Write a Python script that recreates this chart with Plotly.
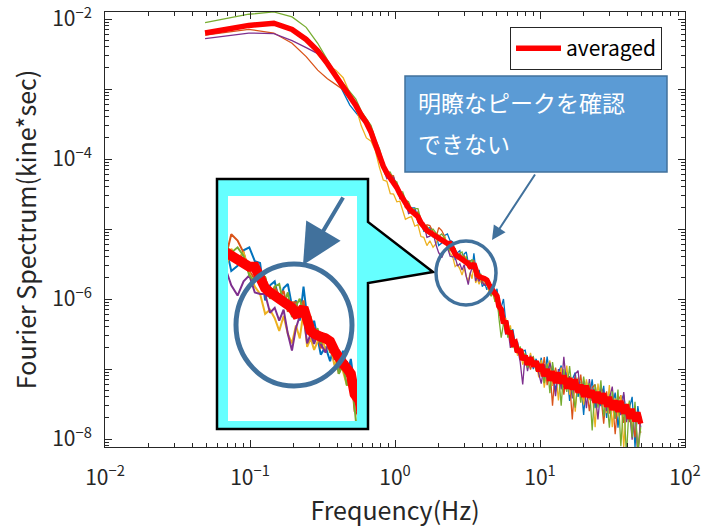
import plotly.graph_objects as go

# ---------------- data ----------------
freq_hz = [0.049, 0.098, 0.146, 0.195, 0.244, 0.293, 0.342, 0.391, 0.439, 0.488,
           0.537, 0.586, 0.635, 0.684, 0.732, 0.781, 0.830, 0.879, 0.928, 0.977,
           1.03, 1.08, 1.13, 1.18, 1.24, 1.30, 1.37, 1.44, 1.51, 1.58, 1.66, 1.74, 1.83, 1.92,
           2.0, 2.1, 2.2, 2.3, 2.4, 2.5, 2.6, 2.7, 2.8, 2.9, 3.0, 3.1, 3.2, 3.3, 3.4, 3.5,
           3.6, 3.7, 3.8, 3.9, 4.0, 4.15, 4.3, 4.45, 4.6, 4.75, 4.9, 5.05, 5.2,
           5.4, 5.6, 5.8, 6.0, 6.25, 6.5, 6.75, 7.0, 7.3, 7.6, 7.9, 8.2, 8.6, 9.0, 9.4, 9.8,
           10.2, 10.7, 11.2, 11.7, 12.2, 12.8, 13.4, 14.0, 14.6, 15.3, 16.0, 16.7, 17.5, 18.3,
           19.1, 20.0, 20.9, 21.9, 22.9, 24.0, 25.1, 26.3, 27.5, 28.8, 30.1, 31.5, 33.0, 34.5,
           36.1, 37.8, 39.5, 41.3, 43.2, 45.2, 47.3, 49.5]

averaged = [6.3e-3, 8.1e-3, 8.7e-3, 7.1e-3, 5.1e-3, 3.5e-3, 2.3e-3, 1.55e-3, 1.1e-3, 7.8e-4,
            5.8e-4, 4.2e-4, 3.3e-4, 2.4e-4, 1.6e-4, 1.07e-4, 7.9e-5, 6.3e-5, 5.4e-5, 4.8e-5,
            3.9e-5, 3.2e-5, 2.7e-5, 2.3e-5, 2.0e-5, 1.8e-5, 1.66e-5, 1.5e-5, 1.23e-5, 1.07e-5,
            9.5e-6, 8.9e-6, 8.3e-6, 7.8e-6,
            7.2e-6, 6.8e-6, 6.5e-6, 6.2e-6, 6.2e-6, 5.0e-6, 4.4e-6, 4.1e-6, 3.9e-6, 3.7e-6,
            3.55e-6, 3.4e-6, 3.2e-6, 2.9e-6, 2.95e-6, 3.2e-6, 2.4e-6, 2.2e-6, 2.1e-6, 2.0e-6,
            2.0e-6, 1.95e-6, 1.86e-6, 1.6e-6, 1.4e-6, 1.3e-6, 1.2e-6, 1.1e-6, 7.9e-7,
            7.1e-7, 4.5e-7, 4.9e-7, 3.2e-7, 3.55e-7, 2.3e-7, 2.4e-7, 1.74e-7, 1.9e-7, 1.35e-7,
            1.55e-7, 1.15e-7, 1.45e-7, 1.1e-7, 1.29e-7, 9.3e-8,
            1.17e-7, 7.9e-8, 1.0e-7, 6.8e-8, 9.3e-8, 6.3e-8, 8.9e-8, 6.2e-8, 8.1e-8, 5.25e-8,
            7.4e-8, 5.1e-8, 7.1e-8, 4.6e-8, 6.0e-8, 4.0e-8, 5.8e-8, 3.9e-8, 5.0e-8, 3.3e-8,
            4.7e-8, 3.2e-8, 4.5e-8, 2.9e-8, 4.0e-8, 2.6e-8, 3.55e-8, 2.45e-8, 3.5e-8, 2.3e-8,
            3.1e-8, 1.95e-8, 2.7e-8, 1.78e-8, 2.4e-8, 1.66e-8]

record_1 = [6.5e-3, 8.3e-3, 8.7e-3, 7.1e-3, 5.5e-3, 3.6e-3, 2.3e-3, 1.45e-3, 9.1e-4, 5.9e-4,
            4.6e-4, 3.7e-4, 3.2e-4, 2.2e-4, 1.4e-4, 1.17e-4, 9.1e-5, 6.6e-5, 4.8e-5, 5.1e-5,
            4.4e-5, 2.9e-5, 3.1e-5, 2.4e-5, 1.78e-5, 2.0e-5, 2.0e-5, 1.45e-5, 1.32e-5, 9.3e-6,
            1.0e-5, 1.05e-5, 7.8e-6, 8.5e-6,
            5.8e-6, 6.3e-6, 8.1e-6, 8.5e-6, 6.8e-6, 6.6e-6, 3.6e-6, 4.6e-6, 4.9e-6, 3.55e-6,
            4.4e-6, 4.7e-6, 3.3e-6, 3.6e-6, 2.6e-6, 4.5e-6, 2.75e-6, 2.0e-6, 2.6e-6, 1.95e-6,
            1.5e-6, 1.7e-6, 1.35e-6, 1.78e-6, 1.15e-6, 1.6e-6, 1.1e-6, 1.4e-6, 8.9e-7,
            7.6e-7, 1.0e-6, 4.8e-7, 4.7e-7, 2.9e-7, 3.7e-7, 2.3e-7, 2.45e-7, 1.45e-7, 1.8e-7,
            1.86e-7, 1.23e-7, 1.48e-7, 1.0e-7, 1.4e-7, 1.0e-7,
            1.45e-7, 6.8e-8, 1.5e-7, 7.8e-8, 1.1e-7, 4.8e-8, 8.9e-8, 1.12e-7, 5.4e-8, 9.1e-8,
            3.5e-8, 7.1e-8, 8.9e-8, 4.0e-8, 6.6e-8, 2.2e-8, 6.6e-8, 3.9e-8, 7.1e-8, 2.75e-8,
            4.8e-8, 2.95e-8, 5.75e-8, 2.0e-8, 4.5e-8, 3.0e-8, 4.6e-8, 1.45e-8, 3.55e-8, 4.3e-8,
            1.86e-8, 2.8e-8, 4.0e-8, 7.6e-9, 2.95e-8, 1.48e-8]

record_2 = [5.9e-3, 7.1e-3, 6.3e-3, 4.5e-3, 2.9e-3, 1.86e-3, 1.4e-3, 1.17e-3, 9.8e-4, 7.8e-4,
            6.0e-4, 4.7e-4, 3.6e-4, 2.5e-4, 1.48e-4, 1.2e-4, 8.3e-5, 5.5e-5, 5.9e-5, 5.75e-5,
            3.6e-5, 3.6e-5, 2.8e-5, 2.0e-5, 2.24e-5, 1.86e-5, 1.5e-5, 1.78e-5, 1.32e-5, 9.5e-6,
            1.15e-5, 1.12e-5, 9.1e-6, 7.4e-6,
            1.05e-5, 9.5e-6, 7.8e-6, 5.8e-6, 5.1e-6, 5.6e-6, 5.25e-6, 3.8e-6, 4.5e-6, 3.9e-6,
            4.2e-6, 3.0e-6, 3.5e-6, 3.5e-6, 2.8e-6, 3.6e-6, 2.2e-6, 2.4e-6, 1.86e-6, 2.1e-6,
            1.66e-6, 2.1e-6, 1.66e-6, 1.8e-6, 1.1e-6, 1.4e-6, 1.05e-6, 1.15e-6, 6.0e-7,
            5.6e-7, 5.5e-7, 3.5e-7, 4.1e-7, 3.0e-7, 3.2e-7, 1.74e-7, 2.1e-7, 1.45e-7, 1.9e-7,
            1.29e-7, 1.38e-7, 9.8e-8, 1.38e-7, 1.07e-7, 1.26e-7,
            7.8e-8, 1.48e-7, 5.9e-8, 1.02e-7, 3.0e-8, 1.05e-7, 6.2e-8, 1.05e-7, 4.3e-8, 8.1e-8,
            6.8e-8, 1.9e-8, 7.9e-8, 4.5e-8, 8.3e-8, 3.55e-8, 5.6e-8, 2.5e-8, 5.4e-8, 6.0e-8,
            3.1e-8, 4.2e-8, 1.66e-8, 4.8e-8, 2.3e-8, 4.0e-8, 1.17e-8, 3.5e-8, 4.2e-8, 1.7e-8,
            3.2e-8, 1.74e-8, 2.45e-8, 1.05e-8, 2.45e-8, 1.23e-8]

record_3 = [6.2e-3, 8.3e-3, 9.1e-3, 7.4e-3, 5.25e-3, 3.1e-3, 2.2e-3, 1.86e-3, 1.45e-3, 8.7e-4,
            5.5e-4, 2.95e-4, 2.0e-4, 1.8e-4, 1.32e-4, 7.6e-5, 5.0e-5, 4.8e-5, 3.2e-5, 3.16e-5,
            2.45e-5, 2.5e-5, 1.86e-5, 1.38e-5, 1.45e-5, 1.5e-5, 1.1e-5, 1.15e-5, 7.8e-6, 7.6e-6,
            5.8e-6, 6.8e-6, 5.5e-6, 6.2e-6,
            8.3e-6, 7.1e-6, 7.8e-6, 5.6e-6, 4.5e-6, 4.0e-6, 2.9e-6, 3.1e-6, 2.7e-6, 2.2e-6,
            2.8e-6, 2.1e-6, 1.8e-6, 2.4e-6, 1.95e-6, 3.0e-6, 1.7e-6, 1.95e-6, 1.62e-6, 1.86e-6,
            2.1e-6, 1.62e-6, 1.74e-6, 1.26e-6, 1.5e-6, 1.15e-6, 9.1e-7, 1.05e-6, 9.1e-7,
            7.2e-7, 4.2e-7, 5.4e-7, 3.2e-7, 4.2e-7, 2.3e-7, 2.4e-7, 1.55e-7, 2.0e-7, 1.15e-7,
            1.48e-7, 1.1e-7, 1.7e-7, 1.07e-7, 1.29e-7, 7.6e-8,
            1.35e-7, 5.4e-8, 1.02e-7, 1.32e-7, 5.75e-8, 9.5e-8, 3.55e-8, 1.05e-7, 5.75e-8, 1.12e-7,
            4.3e-8, 7.4e-8, 2.45e-8, 7.6e-8, 5.9e-8, 3.1e-8, 7.1e-8, 3.6e-8, 4.6e-8, 1.48e-8,
            6.2e-8, 3.2e-8, 4.6e-8, 2.35e-8, 5.9e-8, 1.48e-8, 3.8e-8, 2.1e-8, 4.2e-8, 7.6e-9,
            3.0e-8, 3.3e-8, 1.32e-8, 2.7e-8, 6.3e-9, 1.95e-8]

record_4 = [5.25e-3, 6.3e-3, 6.2e-3, 4.9e-3, 3.9e-3, 3.2e-3, 2.45e-3, 1.7e-3, 1.12e-3, 7.6e-4,
            5.8e-4, 4.5e-4, 3.2e-4, 2.3e-4, 1.66e-4, 1.2e-4, 7.2e-5, 5.25e-5, 5.75e-5, 5.5e-5,
            4.2e-5, 2.7e-5, 2.75e-5, 2.6e-5, 1.66e-5, 1.74e-5, 1.9e-5, 1.23e-5, 1.12e-5, 1.2e-5,
            7.6e-6, 7.9e-6, 8.9e-6, 5.9e-6,
            4.6e-6, 3.9e-6, 4.9e-6, 5.4e-6, 4.1e-6, 4.0e-6, 4.0e-6, 2.95e-6, 3.2e-6, 2.6e-6,
            3.1e-6, 2.1e-6, 1.6e-6, 2.3e-6, 2.8e-6, 2.8e-6, 1.8e-6, 2.1e-6, 1.78e-6, 2.1e-6,
            1.78e-6, 1.55e-6, 2.0e-6, 1.4e-6, 1.45e-6, 1.2e-6, 1.35e-6, 9.1e-7, 8.3e-7,
            5.0e-7, 5.25e-7, 3.1e-7, 3.9e-7, 2.0e-7, 3.0e-7, 1.8e-7, 2.0e-7, 1.26e-7, 6.0e-8,
            1.58e-7, 9.3e-8, 1.55e-7, 1.05e-7, 1.23e-7, 8.3e-8,
            6.2e-8, 1.17e-7, 7.1e-8, 1.23e-7, 8.5e-8, 4.1e-8, 1.0e-7, 5.1e-8, 1.5e-7, 5.5e-8,
            7.9e-8, 3.8e-8, 8.5e-8, 9.5e-8, 4.2e-8, 6.8e-8, 2.75e-8, 7.2e-8, 3.5e-8, 4.8e-8,
            1.9e-8, 5.5e-8, 4.6e-8, 2.5e-8, 3.6e-8, 5.6e-8, 1.95e-8, 3.7e-8, 2.2e-8, 4.7e-8,
            1.74e-8, 2.8e-8, 9.8e-9, 2.95e-8, 5.6e-9, 2.1e-8]

record_5 = [8.9e-3, 1.17e-2, 1.26e-2, 1.07e-2, 7.6e-3, 4.5e-3, 2.6e-3, 1.62e-3, 1.2e-3, 9.3e-4,
            7.2e-4, 4.8e-4, 3.7e-4, 3.0e-4, 1.9e-4, 1.4e-4, 8.9e-5, 6.6e-5, 6.5e-5, 5.0e-5,
            4.7e-5, 3.4e-5, 3.4e-5, 2.6e-5, 2.45e-5, 1.9e-5, 1.95e-5, 1.95e-5, 1.35e-5, 1.1e-5,
            1.1e-5, 9.5e-6, 1.0e-5, 8.7e-6,
            7.8e-6, 8.5e-6, 7.4e-6, 5.4e-6, 4.9e-6, 5.5e-6, 5.25e-6, 3.7e-6, 4.5e-6, 4.7e-6,
            3.4e-6, 4.1e-6, 2.75e-6, 3.3e-6, 3.7e-6, 2.9e-6, 2.7e-6, 2.75e-6, 2.0e-6, 2.3e-6,
            1.8e-6, 2.0e-6, 1.55e-6, 1.74e-6, 1.1e-6, 1.26e-6, 9.1e-7, 1.2e-6, 5.5e-7,
            2.8e-7, 4.4e-7, 4.9e-7, 2.8e-7, 3.8e-7, 2.0e-7, 2.5e-7, 1.78e-7, 2.1e-7, 1.32e-7,
            1.7e-7, 1.05e-7, 1.4e-7, 1.5e-7, 9.3e-8, 1.17e-7,
            1.15e-7, 6.3e-8, 1.2e-7, 4.5e-8, 1.26e-7, 6.5e-8, 9.1e-8, 3.0e-8, 1.0e-7, 4.7e-8,
            1.1e-7, 4.8e-8, 2.8e-8, 6.9e-8, 3.3e-8, 7.8e-8, 4.1e-8, 6.3e-8, 1.32e-8, 6.0e-8,
            2.8e-8, 6.9e-8, 2.1e-8, 4.1e-8, 1.45e-8, 4.8e-8, 1.95e-8, 5.1e-8, 7.9e-9, 3.4e-8,
            5.75e-9, 3.55e-8, 1.05e-8, 3.4e-8, 6.6e-9, 1.48e-8]

x_tick_values = [0.01, 0.1, 1, 10, 100]
x_tick_labels = ["10<sup>−2</sup>", "10<sup>−1</sup>", "10<sup>0</sup>", "10<sup>1</sup>", "10<sup>2</sup>"]
y_tick_values = [1e-2, 1e-3, 1e-4, 1e-5, 1e-6, 1e-7, 1e-8]
y_tick_labels = ["10<sup>−2</sup>", "", "10<sup>−4</sup>", "", "10<sup>−6</sup>", "", "10<sup>−8</sup>"]

legend_label = "averaged"
x_title = "Frequency(Hz)"
y_title = "Fourier Spectrum(kine*sec)"
box_lines = ["明瞭なピークを確認", "できない"]

# ---------------- styling ----------------
W, H = 705, 528
L, R, T, B = 105, 685, 12, 447
FONT = "Noto Sans CJK JP"
AX = "#262626"
COLORS = ["#0072BD", "#D95319", "#EDB120", "#7E2F8E", "#77AC30"]
RED = "#FF0000"
STEEL = "#41719C"


def px(x):
    return (x - L) / (R - L)


def py(y):
    return (B - y) / (B - T)


records = [record_1, record_2, record_3, record_4, record_5]
for r in records + [averaged]:
    assert len(r) == len(freq_hz), len(r)

fig = go.Figure()
for rec, col in zip(records, COLORS):
    fig.add_trace(go.Scatter(x=freq_hz, y=rec, mode="lines", line=dict(color=col, width=1.3),
                             showlegend=False, hoverinfo="skip"))
fig.add_trace(go.Scatter(x=freq_hz, y=averaged, mode="lines", name=legend_label,
                         line=dict(color=RED, width=5.5), hoverinfo="skip"))

# zoomed inset copy of the same data
for rec, col in zip(records, COLORS):
    fig.add_trace(go.Scatter(x=freq_hz, y=rec, mode="lines", line=dict(color=col, width=2),
                             xaxis="x2", yaxis="y2", showlegend=False, hoverinfo="skip"))
fig.add_trace(go.Scatter(x=freq_hz, y=averaged, mode="lines", line=dict(color=RED, width=10),
                         xaxis="x2", yaxis="y2", showlegend=False, hoverinfo="skip"))

minor_x = [m * 10 ** e for e in range(-2, 2) for m in range(2, 10)]
minor_y = [m * 10 ** e for e in range(-9, -1) for m in range(2, 10)]

axis_common = dict(type="log", showline=True, linecolor=AX, linewidth=1, mirror="ticks",
                   ticks="inside", ticklen=7, tickwidth=1, tickcolor=AX,
                   showgrid=False, zeroline=False, automargin=False,
                   ticklabeloverflow="allow",
                   tickfont=dict(family=FONT, size=21, color=AX))

fig.update_layout(
    width=W, height=H,
    margin=dict(l=L, r=W - R, t=T, b=H - B, pad=0),
    paper_bgcolor="white", plot_bgcolor="white",
    font=dict(family=FONT, color=AX),
    xaxis=dict(axis_common, range=[-2, 2], tickmode="array", tickvals=x_tick_values,
               ticktext=x_tick_labels, ticklabelstandoff=12,
               minor=dict(ticks="inside", ticklen=4, tickcolor=AX, tickvals=minor_x),
               title=dict(text=x_title, font=dict(family=FONT, size=25, color=AX), standoff=6)),
    yaxis=dict(axis_common, range=[-8.114, -1.9], tickmode="array", tickvals=y_tick_values,
               ticktext=y_tick_labels, ticklabelstandoff=8,
               minor=dict(ticks="inside", ticklen=4, tickcolor=AX, tickvals=minor_y),
               title=dict(text=y_title, font=dict(family=FONT, size=25, color=AX), standoff=8)),
    xaxis2=dict(type="log", range=[0.29, 0.724], domain=[px(228), px(357)], anchor="y2",
                visible=False),
    yaxis2=dict(type="log", range=[-6.29, -4.71], domain=[py(421), py(196)], anchor="x2",
                visible=False),
    legend=dict(x=px(510), y=py(27), xanchor="left", yanchor="top",
                bgcolor="white", bordercolor=AX, borderwidth=1,
                font=dict(family=FONT, size=21, color="black"),
                tracegroupgap=0, itemwidth=45),
    showlegend=True,
)

# callout (cyan) behind the inset
path = (f"M {px(217)},{py(179)} L {px(368)},{py(179)} L {px(368)},{py(222)} "
        f"L {px(433)},{py(272)} L {px(368)},{py(283)} L {px(368)},{py(429)} "
        f"L {px(217)},{py(429)} Z")
shapes = [
    dict(type="path", path=path, xref="paper", yref="paper", fillcolor="#66FFFF",
         line=dict(color="black", width=2.5), layer="below"),
    dict(type="rect", xref="paper", yref="paper", x0=px(228), x1=px(357), y0=py(421), y1=py(196),
         fillcolor="white", line=dict(width=0), layer="below"),
    dict(type="rect", xref="paper", yref="paper", x0=px(405), x1=px(667), y0=py(172), y1=py(76),
         fillcolor="#5B9BD5", line=dict(color=STEEL, width=1.5), layer="above"),
    dict(type="circle", xref="paper", yref="paper", x0=px(436), x1=px(496), y0=py(305), y1=py(241),
         line=dict(color=STEEL, width=3.5), layer="above"),
    dict(type="circle", xref="paper", yref="paper", x0=px(236), x1=px(352), y0=py(386), y1=py(264),
         line=dict(color=STEEL, width=5), layer="above"),
]
fig.update_layout(shapes=shapes)

annotations = [
    dict(xref="paper", yref="paper", x=px(416), y=py(102), xanchor="left", yanchor="middle",
         text=box_lines[0], showarrow=False, font=dict(family=FONT, size=23, color="white")),
    dict(xref="paper", yref="paper", x=px(416), y=py(143), xanchor="left", yanchor="middle",
         text=box_lines[1], showarrow=False, font=dict(family=FONT, size=23, color="white")),
    dict(xref="paper", yref="paper", x=px(492), y=py(240), ax=44, ay=-67, text="",
         showarrow=True, arrowhead=2, arrowsize=1.4, arrowwidth=2, arrowcolor=STEEL),
    dict(xref="paper", yref="paper", x=px(303), y=py(265), ax=41, ay=-69, text="",
         showarrow=True, arrowhead=2, arrowsize=2, arrowwidth=4, arrowcolor=STEEL),
]
fig.update_layout(annotations=annotations)

fig.write_html("out.html")
